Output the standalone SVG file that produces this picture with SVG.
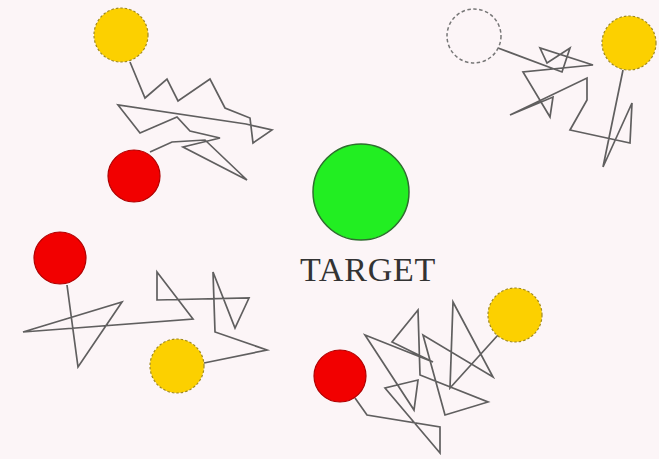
<svg xmlns="http://www.w3.org/2000/svg" width="659" height="459" viewBox="0 0 659 459">
<style>
.bg{fill:#fcf5f7}
.walk{fill:none;stroke:#444;stroke-width:1.7;stroke-linejoin:miter;opacity:0.85}
.yellow{fill:#fcd000;stroke:#a08a20;stroke-width:1.2;stroke-dasharray:2.5 2}
.ghost{fill:none;stroke:#777;stroke-width:1.5;stroke-dasharray:3.5 2.5}
.red{fill:#f20000;stroke:#b00000;stroke-width:1.2}
.green{fill:#22ee22;stroke:#2e6e2e;stroke-width:1.5}
.label{font-family:"Liberation Serif","Times New Roman",serif;font-size:34px;fill:#333;letter-spacing:0.8px}
</style>
<rect class="bg" x="0" y="0" width="659" height="459"/>
<g id="connectors">
<polyline class="walk" points="130,62 145,98 167,79 178,101 210,79 225,108 250,118 253,143 272,130 246,124 118,105 140,133 177,117 190,131 220,138 183,147 247,180 205,140 172,142 150,152"/>
<polyline class="walk" points="498,48 562,72 570,48 547,63 540,48 593,65 523,72 550,117 553,97 510,115 587,78 587,100 570,130 630,143 632,103 603,167 623,70"/>
<polyline class="walk" points="67,285 78,367 122,302 23,332 193,319 157,272 157,300 249,298 235,328 213,272 215,332 267,350 204,363"/>
<polyline class="walk" points="355,398 367,415 440,427 440,453 385,388 418,380 414,410 365,335 433,362 392,342 418,310 420,375 488,402 445,415 423,335 493,377 453,302 450,388 498,335"/>
</g>
<g id="target"><circle class="green" cx="361" cy="192" r="48"/><text class="label" x="300" y="281">TARGET</text></g>
<g id="tl-yellow"><circle class="yellow" cx="121" cy="35" r="27"/></g>
<g id="tl-red"><circle class="red" cx="134" cy="176" r="26"/></g>
<g id="tr-ghost"><circle class="ghost" cx="474" cy="36" r="27"/></g>
<g id="tr-yellow"><circle class="yellow" cx="629" cy="43" r="27"/></g>
<g id="bl-red"><circle class="red" cx="60" cy="258" r="26"/></g>
<g id="bl-yellow"><circle class="yellow" cx="177" cy="366" r="27"/></g>
<g id="br-red"><circle class="red" cx="340" cy="376" r="26"/></g>
<g id="br-yellow"><circle class="yellow" cx="515" cy="315" r="27"/></g>
</svg>
